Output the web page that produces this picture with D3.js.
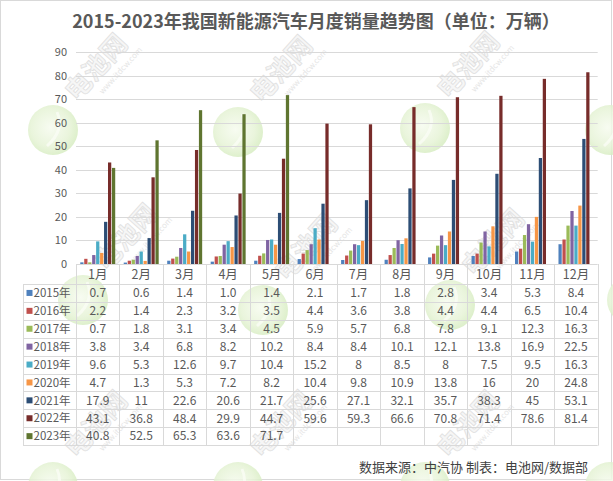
<!DOCTYPE html>
<html><head><meta charset="utf-8">
<script src="https://cdn.jsdelivr.net/npm/d3@7"></script>
<style>
html,body{margin:0;padding:0;background:#fff;}
svg{display:block;}
text{font-family:"Noto Sans CJK SC","Noto Sans",sans-serif;}
</style></head>
<body><svg id="c" width="613" height="481"></svg>
<script>
const months = ["1月","2月","3月","4月","5月","6月","7月","8月","9月","10月","11月","12月"];
const years = ["2015年","2016年","2017年","2018年","2019年","2020年","2021年","2022年","2023年"];
const s2015 = [0.7,0.6,1.4,1.0,1.4,2.1,1.7,1.8,2.8,3.4,5.3,8.4];
const s2016 = [2.2,1.4,2.3,3.2,3.5,4.4,3.6,3.8,4.4,4.4,6.5,10.4];
const s2017 = [0.7,1.8,3.1,3.4,4.5,5.9,5.7,6.8,7.8,9.1,12.3,16.3];
const s2018 = [3.8,3.4,6.8,8.2,10.2,8.4,8.4,10.1,12.1,13.8,16.9,22.5];
const s2019 = [9.6,5.3,12.6,9.7,10.4,15.2,8,8.5,8,7.5,9.5,16.3];
const s2020 = [4.7,1.3,5.3,7.2,8.2,10.4,9.8,10.9,13.8,16,20,24.8];
const s2021 = [17.9,11,22.6,20.6,21.7,25.6,27.1,32.1,35.7,38.3,45,53.1];
const s2022 = [43.1,36.8,48.4,29.9,44.7,59.6,59.3,66.6,70.8,71.4,78.6,81.4];
const s2023 = [40.8,52.5,65.3,63.6,71.7,null,null,null,null,null,null,null];
const colors = ["#4F81BD","#C0504D","#9BBB59","#8064A2","#4BACC6","#F79646","#2C4D75","#772C2A","#5F7530"];
const yTicks = [0,10,20,30,40,50,60,70,80,90];
const title = "2015-2023年我国新能源汽车月度销量趋势图（单位：万辆）";
const footer = "数据来源：中汽协  制表：电池网/数据部";

(function(){
const series = [s2015,s2016,s2017,s2018,s2019,s2020,s2021,s2022,s2023];
const svg = d3.select("#c");

svg.append("rect").attr("x",0.5).attr("y",0.5).attr("width",611).attr("height",479)
  .attr("fill","#fff").attr("stroke","#d9d9d9");

const defs = svg.append("defs");
const rg = defs.append("radialGradient").attr("id","wmg").attr("cx","45%").attr("cy","45%").attr("r","55%");
rg.append("stop").attr("offset","0%").attr("stop-color","#f6fbef");
rg.append("stop").attr("offset","70%").attr("stop-color","#e6f3d6");
rg.append("stop").attr("offset","100%").attr("stop-color","#d8edc3");
const wm = [[53,130],[238,132],[425,128],[610,130],[83,300],[263,310],[450,305],[632,300],[53,487],[238,487],[425,487],[610,487]];
const wmG = svg.append("g");
wm.forEach(([cx,cy])=>{
  wmG.append("circle").attr("cx",cx).attr("cy",cy).attr("r",25).attr("fill","url(#wmg)").attr("opacity",0.85);
  wmG.append("path").attr("d",`M${cx-6},${cy+16} Q${cx+12},${cy} ${cx+4},${cy-18}`).attr("fill","none")
    .attr("stroke","#fafdf5").attr("stroke-width",3).attr("opacity",0.8);
  if (cx + 44 + 30 > 605) return;
  const g = wmG.append("g").attr("transform",`translate(${cx+44},${cy-62}) rotate(-48)`);
  g.append("text").attr("text-anchor","middle").attr("y",8).attr("font-size",26).attr("font-weight","bold")
    .attr("fill","#f6f6f6").attr("stroke","#e0e0e0").attr("stroke-width",0.8).text("电池网");
  g.append("text").attr("text-anchor","middle").attr("x",14).attr("y",22).attr("font-size",8)
    .attr("fill","#e6e6e6").text("www.itdcw.com");
});

const pLeft = 76, pRight = 597.7, pTop = 52, pBottom = 264;
const y = d3.scaleLinear().domain([0,90]).range([pBottom, pTop]);
const x0 = d3.scaleBand().domain(months).range([pLeft,pRight]).paddingInner(0.163).paddingOuter(0.0815);
const x1 = d3.scaleBand().domain(years).range([0,x0.bandwidth()]).padding(0.18);
const xc = d3.scaleBand().domain(months).range([pLeft,pRight]);

svg.append("g").selectAll("line").data(yTicks.filter(d=>d>0)).join("line")
  .attr("x1",pLeft).attr("x2",pRight).attr("y1",d=>Math.round(y(d))+0.5).attr("y2",d=>Math.round(y(d))+0.5)
  .attr("stroke","#d9d9d9").attr("stroke-width",1);

const yAxis = d3.axisLeft(y).tickValues(yTicks).tickSize(0).tickPadding(0);
const ya = svg.append("g").attr("transform",`translate(67,0)`).call(yAxis);
ya.select(".domain").remove();
ya.selectAll("text").attr("font-size",11).attr("fill","#595959").attr("font-family","\"Noto Sans\",sans-serif");

const bars = svg.append("g");
series.forEach((s,i)=>{
  bars.append("g").attr("fill",colors[i]).selectAll("rect")
    .data(s.map((v,j)=>({m:months[j],v})).filter(d=>d.v!=null)).join("rect")
    .attr("x",d=>x0(d.m)+x1(years[i])).attr("width",x1.bandwidth())
    .attr("y",d=>y(d.v)).attr("height",d=>pBottom-y(d.v));
});

const rowH = 17.9, hdrBottom = 284, legLeft = 23;
const tb = svg.append("g");
const lc = "#d9d9d9";
const tableBottom = hdrBottom + rowH*years.length;
tb.append("line").attr("x1",pLeft).attr("x2",pRight).attr("y1",pBottom+0.5).attr("y2",pBottom+0.5).attr("stroke",lc);
d3.range(years.length+1).forEach(k=>{
  const yy = Math.round(hdrBottom + rowH*k)+0.5;
  tb.append("line").attr("x1",legLeft).attr("x2",pRight).attr("y1",yy).attr("y2",yy).attr("stroke",lc);
});
tb.append("line").attr("x1",legLeft+0.5).attr("x2",legLeft+0.5).attr("y1",hdrBottom).attr("y2",tableBottom+0.5).attr("stroke",lc);
d3.range(months.length+1).forEach(k=>{
  const xx = Math.round(pLeft + xc.step()*k)+0.5;
  tb.append("line").attr("x1",xx).attr("x2",xx).attr("y1",pBottom).attr("y2",tableBottom+0.5).attr("stroke",lc);
});
tb.selectAll("text.m").data(months).join("text").attr("class","m")
  .attr("x",d=>xc(d)+xc.bandwidth()/2).attr("y",pBottom+14.5).attr("text-anchor","middle")
  .attr("font-size",12.5).attr("fill","#595959").text(d=>d);
years.forEach((yr,i)=>{
  const cy = hdrBottom + rowH*i + rowH/2;
  tb.append("rect").attr("x",26.5).attr("y",cy-3).attr("width",6).attr("height",6).attr("fill",colors[i]);
  tb.append("text").attr("x",33.5).attr("y",cy+4.2).attr("font-size",11.5).attr("fill","#595959").text(yr);
  const fmt = i===0 ? d3.format(".1f") : (v=>String(v));
  tb.append("g").selectAll("text").data(series[i].map((v,j)=>({m:months[j],v})).filter(d=>d.v!=null)).join("text")
    .attr("x",d=>xc(d.m)+xc.bandwidth()/2).attr("y",cy+4.3).attr("text-anchor","middle")
    .attr("font-size",12).attr("fill","#595959").text(d=>fmt(d.v));
});

svg.append("text").attr("x",316).attr("y",28).attr("text-anchor","middle")
  .attr("font-size",18).attr("font-weight","bold").attr("fill","#595959").text(title);

svg.append("text").attr("x",588).attr("y",472).attr("text-anchor","end")
  .attr("font-size",13).attr("fill","#404040").text(footer);
})();
</script></body></html>
